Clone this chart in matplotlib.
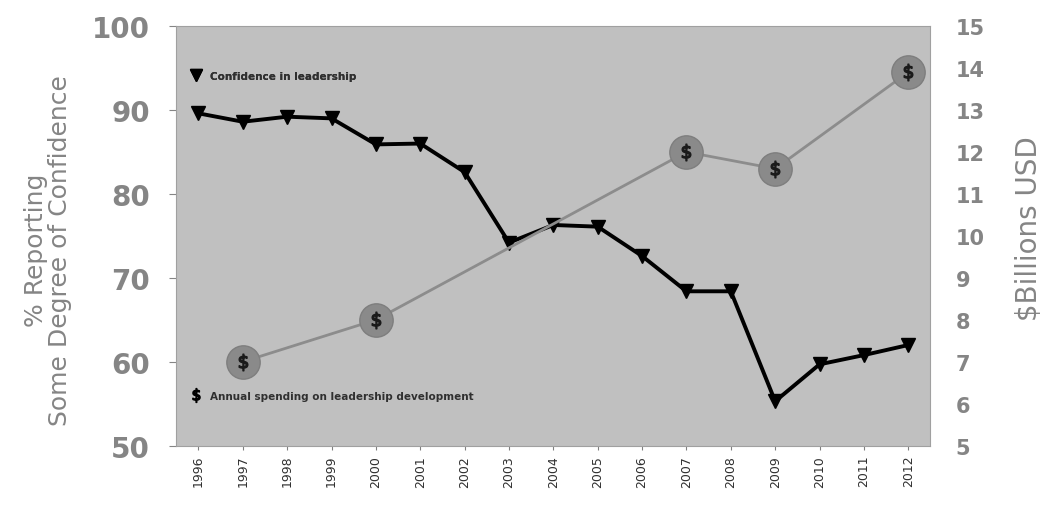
import matplotlib
matplotlib.use("Agg")
import matplotlib.pyplot as plt
from matplotlib.lines import Line2D

years = [str(y) for y in range(1996, 2013)]
confidence = [89.6, 88.6, 89.2, 89.0, 85.9, 86.0, 82.6, 74.2, 76.3, 76.1,
              72.6, 68.4, 68.4, 55.3, 59.7, 60.8, 62.0]
spend_years = ["1997", "2000", "2007", "2009", "2012"]
spending = [7.0, 8.0, 12.0, 11.6, 13.9]

grey_txt = "#858585"

fig = plt.figure(figsize=(10.49, 5.10), dpi=100)
ax = fig.add_axes([0.168, 0.124, 0.719, 0.823])
ax.set_facecolor("#c0c0c0")

x = list(range(len(years)))
spend_x = [years.index(y) for y in spend_years]

# confidence line (left axis)
ax.plot(x, confidence, color="black", lw=2.8, marker="v", markersize=10,
        zorder=3)
ax.set_xlim(-0.5, len(years) - 0.5)
ax.set_ylim(50, 100)
ax.set_yticks(range(50, 101, 10))
ax.set_xticks(x)
ax.set_xticklabels(years, rotation=90, fontsize=9, color="#303030")
ax.tick_params(axis="y", labelsize=20, colors=grey_txt, length=5, pad=14)
ax.tick_params(axis="x", length=3, colors="#808080", labelcolor="#303030")
for lab in ax.get_yticklabels():
    lab.set_fontweight("bold")
for s in ax.spines.values():
    s.set_color("#a0a0a0")
ax.set_ylabel("% Reporting\nSome Degree of Confidence", fontsize=18,
              color=grey_txt, linespacing=1.0, labelpad=14)
ax.yaxis.label.set_y(0.467)

# spending line (right axis)
ax2 = ax.twinx()
ax2.plot(spend_x, spending, color="#8c8c8c", lw=2, zorder=2)
ax2.plot(spend_x, spending, linestyle="none", marker="o", markersize=24,
         markerfacecolor="#8a8a8a", markeredgecolor="#7e7e7e", zorder=3)
ax2.plot(spend_x, spending, linestyle="none", marker=r"$\$$", markersize=12,
         color="#1a1a1a", zorder=4)
ax2.set_ylim(5, 15)
ax2.set_yticks(range(5, 16))
ax2.tick_params(axis="y", labelsize=15, colors=grey_txt, length=0, pad=18)
for lab in ax2.get_yticklabels():
    lab.set_fontweight("bold")
for s in ax2.spines.values():
    s.set_visible(False)
ax2.set_ylabel("$Billions USD", fontsize=20, color=grey_txt, labelpad=22)
ax2.yaxis.label.set_y(0.52)

h1 = Line2D([], [], color="black", marker="v", linestyle="none", markersize=9)
leg1 = ax.legend([h1], ["Confidence in leadership"], loc="upper left",
                 bbox_to_anchor=(0.0, 0.915), frameon=False, handletextpad=0.3,
                 prop={"size": 7.5, "weight": "bold"}, labelcolor="#303030")
ax.add_artist(leg1)
h2 = Line2D([], [], color="black", marker=r"$\$$", linestyle="none",
            markersize=10)
ax2.legend([h2], ["Annual spending on leadership development"],
           loc="lower left", bbox_to_anchor=(0.0, 0.085), frameon=False,
           handletextpad=0.3, prop={"size": 7.5, "weight": "bold"},
           labelcolor="#303030")

fig.savefig("out.png", dpi=100)
